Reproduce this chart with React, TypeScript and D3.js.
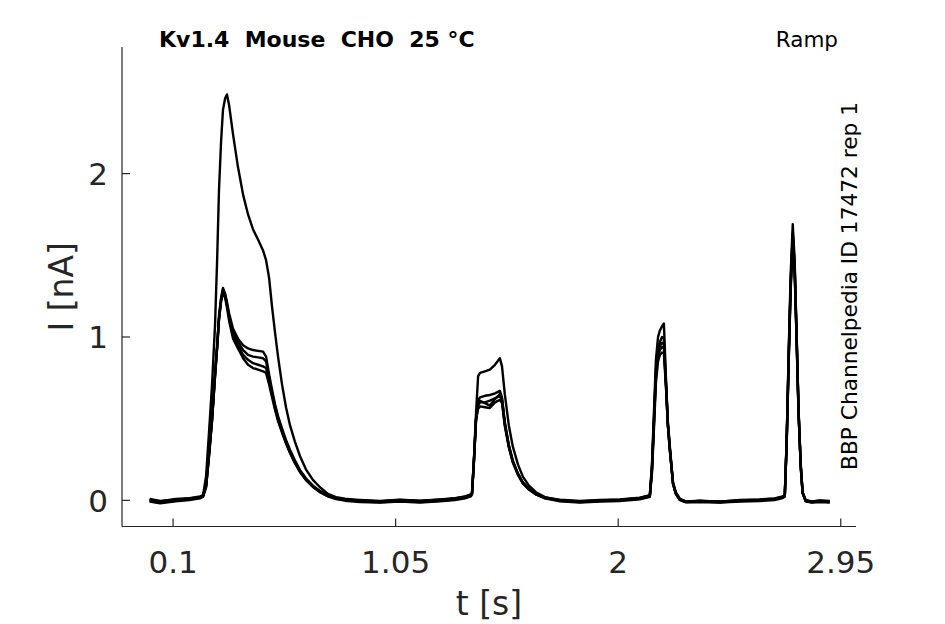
import React from 'react';
import * as d3 from 'd3';

// shared sample times (s) for all sweeps
const timeS = [
  0.000, 0.045, 0.110, 0.170, 0.215, 0.228, 0.241, 0.254, 0.266, 0.279, 0.288, 0.296, 0.305, 0.313, 0.322, 0.330,
  0.339, 0.356, 0.377, 0.399, 0.420, 0.441, 0.463, 0.484, 0.497, 0.510, 0.522, 0.535, 0.548, 0.565, 0.582, 0.599,
  0.620, 0.642, 0.667, 0.697, 0.727, 0.761, 0.795, 0.834, 0.898, 0.983, 1.068, 1.154, 1.239, 1.303, 1.346, 1.371,
  1.376, 1.384, 1.393, 1.402, 1.410, 1.431, 1.452, 1.474, 1.495, 1.504, 1.516, 1.533, 1.550, 1.572, 1.593, 1.619,
  1.649, 1.687, 1.751, 1.836, 1.922, 2.007, 2.092, 2.127,
  2.135, 2.144, 2.152, 2.161, 2.170, 2.178, 2.187, 2.195, 2.204, 2.212, 2.221, 2.234, 2.246, 2.263, 2.289, 2.348,
  2.434, 2.519, 2.604, 2.668, 2.702,
  2.711, 2.719, 2.728, 2.736, 2.745, 2.753, 2.762, 2.770, 2.779, 2.787, 2.800, 2.826, 2.860, 2.903,
];

// current (nA) per sweep
const sweep1 = [
  0.000, -0.012, 0.002, 0.010, 0.018, 0.030, 0.150, 0.430, 0.700, 1.070, 1.470, 1.900, 2.200, 2.390, 2.460, 2.485,
  2.420, 2.240, 2.040, 1.870, 1.750, 1.660, 1.595, 1.530, 1.470, 1.360, 1.190, 1.030, 0.880, 0.710, 0.570, 0.460,
  0.360, 0.270, 0.190, 0.125, 0.080, 0.040, 0.020, 0.010, 0.000, -0.006, 0.002, -0.004, 0.004, 0.012, 0.022, 0.035,
  0.050, 0.250, 0.530, 0.760, 0.780, 0.790, 0.800, 0.830, 0.870, 0.820, 0.650, 0.460, 0.330, 0.220, 0.145, 0.090,
  0.050, 0.020, 0.000, -0.006, 0.000, 0.004, 0.015, 0.025,
  0.035, 0.220, 0.520, 0.860, 1.000, 1.040, 1.065, 1.083, 0.740, 0.480, 0.320, 0.110, 0.050, 0.010, -0.008, -0.004,
  -0.006, 0.000, 0.004, 0.010, 0.022,
  0.030, 0.370, 0.930, 1.380, 1.690, 1.470, 0.990, 0.550, 0.220, 0.050, 0.000, -0.008, -0.002, -0.006,
];
const sweep2 = [
  0.004, -0.006, 0.008, 0.014, 0.024, 0.032, 0.095, 0.300, 0.500, 0.780, 0.950, 1.130, 1.240, 1.300, 1.265, 1.215,
  1.145, 1.050, 0.990, 0.950, 0.930, 0.920, 0.915, 0.910, 0.880, 0.770, 0.680, 0.590, 0.515, 0.440, 0.370, 0.310,
  0.245, 0.185, 0.135, 0.090, 0.058, 0.032, 0.016, 0.006, 0.002, -0.004, 0.004, -0.002, 0.006, 0.014, 0.024, 0.036,
  0.045, 0.240, 0.500, 0.610, 0.630, 0.640, 0.645, 0.655, 0.670, 0.630, 0.480, 0.340, 0.245, 0.165, 0.110, 0.072,
  0.040, 0.018, 0.004, -0.004, 0.002, 0.006, 0.016, 0.028,
  0.030, 0.200, 0.480, 0.800, 0.920, 0.970, 1.000, 0.990, 0.720, 0.470, 0.310, 0.105, 0.045, 0.008, -0.006, -0.002,
  -0.008, 0.002, 0.006, 0.012, 0.024,
  0.030, 0.360, 0.900, 1.330, 1.640, 1.450, 0.980, 0.540, 0.220, 0.050, 0.002, -0.006, 0.000, -0.004,
];
const sweep3 = [
  -0.004, -0.014, -0.002, 0.006, 0.016, 0.026, 0.085, 0.285, 0.485, 0.760, 0.935, 1.110, 1.225, 1.280, 1.255, 1.200,
  1.130, 1.030, 0.970, 0.920, 0.890, 0.880, 0.875, 0.870, 0.850, 0.750, 0.665, 0.575, 0.505, 0.430, 0.360, 0.300,
  0.238, 0.180, 0.130, 0.086, 0.054, 0.028, 0.012, 0.002, -0.006, -0.012, -0.004, -0.010, -0.002, 0.006, 0.016, 0.028,
  0.040, 0.235, 0.490, 0.580, 0.600, 0.600, 0.610, 0.625, 0.640, 0.610, 0.465, 0.330, 0.238, 0.160, 0.106, 0.068,
  0.036, 0.014, -0.002, -0.010, -0.004, 0.000, 0.010, 0.022,
  0.026, 0.180, 0.450, 0.760, 0.880, 0.920, 0.940, 0.935, 0.700, 0.460, 0.300, 0.100, 0.040, 0.004, -0.010, -0.008,
  -0.012, -0.004, 0.000, 0.006, 0.018,
  0.026, 0.350, 0.880, 1.300, 1.610, 1.420, 0.960, 0.530, 0.210, 0.045, -0.004, -0.012, -0.006, -0.010,
];
const sweep4 = [
  0.008, -0.004, 0.004, 0.012, 0.020, 0.030, 0.090, 0.290, 0.490, 0.765, 0.940, 1.115, 1.230, 1.290, 1.260, 1.195,
  1.120, 1.010, 0.950, 0.890, 0.860, 0.840, 0.830, 0.820, 0.810, 0.730, 0.650, 0.565, 0.495, 0.422, 0.354, 0.295,
  0.232, 0.176, 0.127, 0.084, 0.052, 0.026, 0.012, 0.004, 0.000, -0.008, 0.000, -0.006, 0.002, 0.010, 0.020, 0.032,
  0.042, 0.238, 0.495, 0.560, 0.575, 0.570, 0.565, 0.600, 0.615, 0.595, 0.455, 0.325, 0.232, 0.156, 0.104, 0.066,
  0.036, 0.016, 0.000, -0.006, -0.002, 0.002, 0.012, 0.024,
  0.028, 0.160, 0.420, 0.720, 0.850, 0.890, 0.905, 0.900, 0.690, 0.455, 0.298, 0.100, 0.042, 0.006, -0.008, -0.004,
  -0.010, -0.002, 0.002, 0.008, 0.020,
  0.028, 0.340, 0.860, 1.280, 1.590, 1.400, 0.950, 0.525, 0.205, 0.045, -0.002, -0.010, -0.004, -0.008,
];
const sweep5 = [
  -0.008, -0.018, -0.006, 0.002, 0.012, 0.022, 0.080, 0.280, 0.480, 0.755, 0.930, 1.105, 1.220, 1.270, 1.240, 1.180,
  1.100, 0.990, 0.930, 0.870, 0.830, 0.810, 0.800, 0.790, 0.780, 0.710, 0.635, 0.555, 0.485, 0.415, 0.348, 0.290,
  0.228, 0.172, 0.124, 0.082, 0.050, 0.024, 0.008, -0.002, -0.010, -0.014, -0.008, -0.014, -0.006, 0.002, 0.012, 0.024,
  0.036, 0.230, 0.485, 0.590, 0.610, 0.595, 0.580, 0.620, 0.650, 0.620, 0.470, 0.335, 0.240, 0.162, 0.108, 0.070,
  0.038, 0.012, -0.006, -0.014, -0.008, -0.004, 0.006, 0.018,
  0.022, 0.190, 0.460, 0.780, 0.900, 0.945, 0.965, 0.955, 0.710, 0.465, 0.305, 0.102, 0.040, 0.002, -0.012, -0.010,
  -0.014, -0.008, -0.004, 0.002, 0.014,
  0.022, 0.355, 0.890, 1.315, 1.625, 1.435, 0.970, 0.535, 0.215, 0.048, -0.006, -0.014, -0.010, -0.014,
];

const sweeps = [sweep5, sweep4, sweep3, sweep2, sweep1];
const xTicks = [0.1, 1.05, 2, 2.95];
const yTicks = [0, 1, 2];

const FONT = '"DejaVu Sans", sans-serif';
const AXIS = '#262626';

export default function App() {
  const width = 945;
  const height = 624;
  const left = 122, right = 856, top = 47, bottom = 526.5;

  const x = d3.scaleLinear().domain([-0.118, 3.015]).range([left, right]);
  const y = d3.scaleLinear().domain([-0.16, 2.775]).range([bottom, top]);

  const line = d3.line<number>()
    .x((_, i) => x(timeS[i]))
    .y(d => y(d));

  return (
    <svg width={width} height={height} style={{ position: 'absolute', left: 0, top: 0, background: '#fff' }}>
      <rect width={width} height={height} fill="#fff" />

      {/* traces */}
      <g fill="none" stroke="#000" strokeWidth={2.4} strokeLinejoin="round">
        {sweeps.map((s, i) => (
          <path key={i} d={line(s.slice(0, timeS.length)) || ''} />
        ))}
      </g>

      {/* axes */}
      <g stroke={AXIS} strokeWidth={1.2} fill="none">
        <line x1={left} y1={top} x2={left} y2={bottom} />
        <line x1={left} y1={bottom} x2={right} y2={bottom} />
        {xTicks.map(t => (
          <line key={t} x1={x(t)} x2={x(t)} y1={bottom} y2={bottom - 8} />
        ))}
        {yTicks.map(t => (
          <line key={t} x1={left} x2={left + 8} y1={y(t)} y2={y(t)} />
        ))}
      </g>

      <g fill={AXIS} fontFamily={FONT} fontSize={31}>
        {xTicks.map(t => (
          <text key={t} x={x(t)} y={572.5} textAnchor="middle">{String(t)}</text>
        ))}
        {yTicks.map(t => (
          <text key={t} x={108} y={y(t) + 11.3} textAnchor="end">{String(t)}</text>
        ))}
      </g>

      <text x={(left + right) / 2} y={615} textAnchor="middle" fontFamily={FONT} fontSize={33} fill={AXIS}>
        t [s]
      </text>
      <text transform={`translate(73,${(top + bottom) / 2}) rotate(-90)`} textAnchor="middle"
        fontFamily={FONT} fontSize={33} fill={AXIS}>
        I [nA]
      </text>

      <text x={159} y={47} fontFamily={FONT} fontSize={22} fontWeight="bold" fill="#000"
        style={{ whiteSpace: 'pre' }}>
        {'Kv1.4  Mouse  CHO  25 °C'}
      </text>
      <text x={838} y={47} textAnchor="end" fontFamily={FONT} fontSize={21.5} fill="#000">
        Ramp
      </text>
      <text transform={`translate(857,286) rotate(-90)`} textAnchor="middle" fontFamily={FONT}
        fontSize={21.7} fill="#000">
        BBP Channelpedia ID 17472 rep 1
      </text>
    </svg>
  );
}
